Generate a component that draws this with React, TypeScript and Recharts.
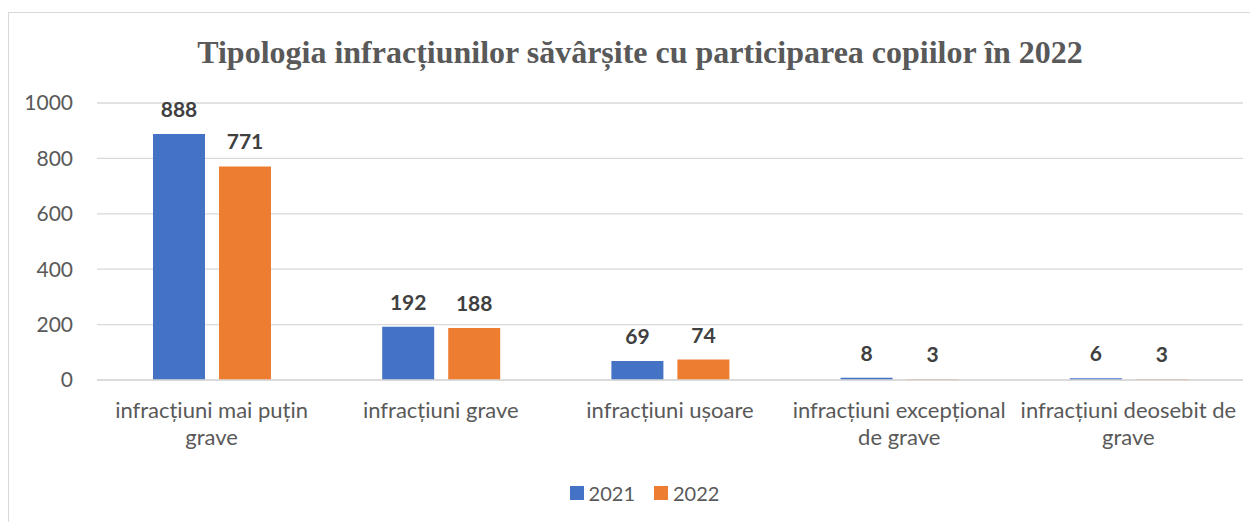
import React from "react";
import { BarChart, Bar, XAxis, YAxis, CartesianGrid, Legend, LabelList } from "recharts";

const categories = [
  "infracțiuni mai puțin grave",
  "infracțiuni grave",
  "infracțiuni ușoare",
  "infracțiuni excepțional de grave",
  "infracțiuni deosebit de grave",
];
const values2021 = [888, 192, 69, 8, 6];
const values2022 = [771, 188, 74, 3, 3];
const yTicks = [0, 200, 400, 600, 800, 1000];
const title = "Tipologia infracțiunilor săvârșite cu participarea copiilor în 2022";

const data = categories.map((c, i) => ({ name: c, y2021: values2021[i], y2022: values2022[i] }));

const FONT = "Lato, 'Open Sans', sans-serif";
const BLUE = "#4472C4";
const ORANGE = "#ED7D31";

function wrap(text: string, maxChars: number): string[] {
  const words = text.split(" ");
  const lines: string[] = [];
  let cur = "";
  for (const w of words) {
    const next = cur ? cur + " " + w : w;
    if (next.length > maxChars && cur) {
      lines.push(cur);
      cur = w;
    } else cur = next;
  }
  if (cur) lines.push(cur);
  return lines;
}

const XTick = (props: any) => {
  const { x, y, payload } = props;
  const lines = wrap(payload.value, 23);
  return (
    <text x={x} y={y} textAnchor="middle" fill="#595959" fontSize={22} fontFamily={FONT}>
      {lines.map((l, i) => (
        <tspan key={i} x={x} dy={i === 0 ? 30 : 27}>
          {l}
        </tspan>
      ))}
    </text>
  );
};

const LegendContent = () => (
  <div
    style={{
      display: "flex",
      justifyContent: "center",
      alignItems: "center",
      paddingLeft: 37,
      height: 22,
      fontFamily: FONT,
      fontSize: 20,
      color: "#595959",
    }}
  >
    {[
      { label: "2021", color: BLUE },
      { label: "2022", color: ORANGE },
    ].map((it, i) => (
      <div key={it.label} style={{ display: "flex", alignItems: "center", marginLeft: i ? 19 : 0 }}>
        <div style={{ width: 14, height: 14, background: it.color, marginRight: 5 }} />
        <span>{it.label}</span>
      </div>
    ))}
  </div>
);

export default function App() {
  return (
    <div
      style={{
        marginTop: 4,
        width: 1249,
        height: 509,
        borderLeft: "1px solid #d9d9d9",
        borderTop: "1px solid #d9d9d9",
        position: "relative",
        background: "#fff",
      }}
    >
      <BarChart
        width={1249}
        height={509}
        data={data}
        margin={{ top: 90, right: 15, left: 0, bottom: 0 }}
        barSize={52}
        barGap={14}
      >
        <CartesianGrid vertical={false} stroke="#d9d9d9" strokeWidth={1.3} />
        <XAxis
          dataKey="name"
          axisLine={{ stroke: "#d9d9d9", strokeWidth: 1.3 }}
          tickLine={false}
          interval={0}
          height={102}
          tick={<XTick />}
        />
        <YAxis
          width={88}
          domain={[0, 1000]}
          ticks={yTicks}
          axisLine={false}
          tickLine={false}
          tickMargin={18}
          tick={{ fill: "#595959", fontSize: 21, fontFamily: FONT }}
        />
        <Legend verticalAlign="bottom" height={40} content={<LegendContent />} />
        <Bar dataKey="y2021" name="2021" fill={BLUE} isAnimationActive={false}>
          <LabelList
            dataKey="y2021"
            position="top"
            offset={17}
            fill="#404040"
            fontSize={21}
            fontWeight="bold"
            fontFamily={FONT}
          />
        </Bar>
        <Bar dataKey="y2022" name="2022" fill={ORANGE} isAnimationActive={false}>
          <LabelList
            dataKey="y2022"
            position="top"
            offset={17}
            fill="#404040"
            fontSize={21}
            fontWeight="bold"
            fontFamily={FONT}
          />
        </Bar>
      </BarChart>
      <svg
        width={1249}
        height={80}
        style={{ position: "absolute", left: 0, top: 0, pointerEvents: "none" }}
      >
        <text
          x={631}
          y={50}
          textAnchor="middle"
          fill="#595959"
          fontSize={32}
          fontWeight="bold"
          fontFamily="'Liberation Serif', 'Times New Roman', serif"
        >
          {title}
        </text>
      </svg>
    </div>
  );
}
